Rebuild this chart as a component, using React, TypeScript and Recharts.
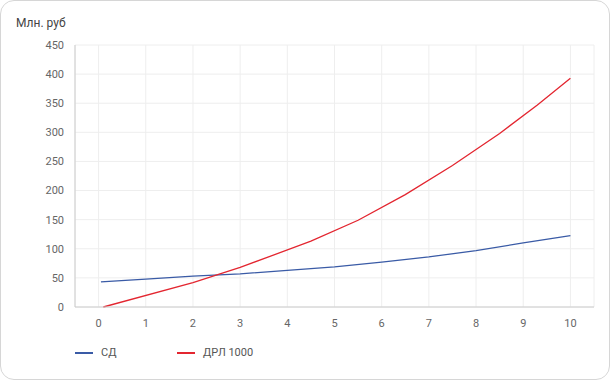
import React from 'react';
import { LineChart, Line, XAxis, YAxis, CartesianGrid, Legend } from 'recharts';

const xTicks = [0, 1, 2, 3, 4, 5, 6, 7, 8, 9, 10];
const yTicks = [0, 50, 100, 150, 200, 250, 300, 350, 400, 450];

const sdX = [0.05, 1, 2, 3, 4, 5, 6, 7, 8, 9, 10];
const sdY = [43, 48, 53, 57, 63, 69, 77, 86, 97, 110, 122.5];

const drlX = [0.1, 2, 3, 4.5, 5.5, 6.5, 7.5, 8.5, 9.3, 10];
const drlY = [0, 42, 68, 113, 149, 193, 243, 298, 347, 393];

const sdData = sdX.map((x, i) => ({ x, y: sdY[i] }));
const drlData = drlX.map((x, i) => ({ x, y: drlY[i] }));

const BLUE = '#3a5ba6';
const RED = '#e32630';
const FONT = 'Roboto, "Liberation Sans", Arial, sans-serif';

const series = [
  { name: 'СД', color: BLUE },
  { name: 'ДРЛ 1000', color: RED },
];

const LegendContent = () => (
  <div style={{ display: 'flex', fontFamily: FONT, fontSize: 11, color: '#555', height: 13 }}>
    {series.map((s) => (
      <div key={s.name} style={{ display: 'flex', alignItems: 'center', width: 102 }}>
        <span style={{ display: 'inline-block', width: 18, height: 2, background: s.color, marginRight: 8 }} />
        <span>{s.name}</span>
      </div>
    ))}
  </div>
);

const App: React.FC = () => {
  return (
    <div
      style={{
        position: 'fixed',
        left: 0,
        top: 0,
        width: 610,
        height: 380,
        boxSizing: 'border-box',
        border: '1px solid #d6d6d6',
        borderRadius: 14,
        background: '#fff',
        overflow: 'hidden',
      }}
    >
      <div
        style={{
          position: 'absolute',
          left: 15,
          top: 15,
          fontFamily: FONT,
          fontSize: 12,
          color: '#444',
        }}
      >
        Млн. руб
      </div>
      <div style={{ position: 'absolute', left: -1, top: -1 }}>
        <LineChart width={610} height={380} margin={{ top: 45, right: 16, left: 0, bottom: 30 }}>
          <CartesianGrid stroke="#eeeeee" />
          <XAxis
            type="number"
            dataKey="x"
            domain={[-0.5, 10.5]}
            ticks={xTicks}
            allowDataOverflow
            height={30}
            tickLine={false}
            tickSize={0}
            tickMargin={12}
            stroke="#cccccc"
            tick={{ fill: '#666', fontSize: 11, fontFamily: FONT }}
          />
          <YAxis
            type="number"
            domain={[0, 450]}
            ticks={yTicks}
            width={75}
            tickLine={false}
            tickSize={0}
            tickMargin={11}
            stroke="#cccccc"
            tick={{ fill: '#666', fontSize: 11, fontFamily: FONT }}
          />
          <Legend
            content={<LegendContent />}
            wrapperStyle={{ position: 'absolute', left: 75, top: 346, width: 300 }}
          />
          <Line
            data={sdData}
            dataKey="y"
            name="СД"
            type="linear"
            stroke={BLUE}
            strokeWidth={1.3}
            dot={false}
            isAnimationActive={false}
          />
          <Line
            data={drlData}
            dataKey="y"
            name="ДРЛ 1000"
            type="linear"
            stroke={RED}
            strokeWidth={1.3}
            dot={false}
            isAnimationActive={false}
          />
        </LineChart>
      </div>
    </div>
  );
};

export default App;
